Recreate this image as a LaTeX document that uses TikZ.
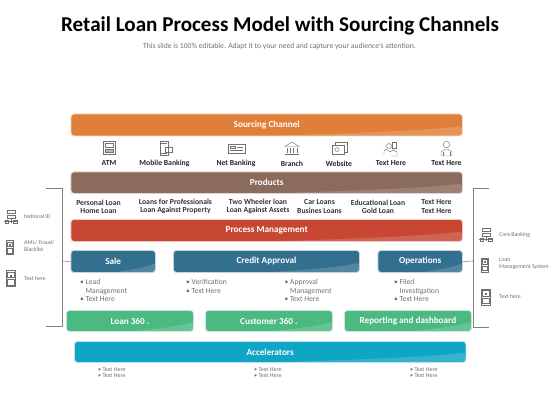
\documentclass[tikz,border=0pt]{standalone}
\usepackage{fontspec}
\setmainfont{Carlito}
\definecolor{orangeb}{HTML}{E07F3A}
\definecolor{brownb}{HTML}{8A6B5C}
\definecolor{redb}{HTML}{C84733}
\definecolor{blueb}{HTML}{33708F}
\definecolor{greenb}{HTML}{4CB981}
\definecolor{cyanb}{HTML}{0FA5C4}
\definecolor{icong}{HTML}{707070}
\definecolor{txtg}{HTML}{707070}
\definecolor{lineg}{HTML}{808080}
\newlength{\bwid}
\tikzset{
 bar/.style={rounded corners=3pt,fill=#1,draw=#1!30!white,line width=0.9pt,text=white,
   font=\bfseries\fontsize{9.2}{10}\selectfont,inner sep=0pt,anchor=north west,align=center,
   path picture={\fill[white,opacity=.16]
     ([xshift=-.5*\bwid]path picture bounding box.south east)
     .. controls ([xshift=-.25*\bwid,yshift=3pt]path picture bounding box.south east) and ([xshift=-.08*\bwid,yshift=6pt]path picture bounding box.south east) ..
     ([yshift=10pt]path picture bounding box.south east)
     -- (path picture bounding box.south east) -- cycle;}},
 lab/.style={font=\bfseries\fontsize{7.7}{8.6}\selectfont,text=black!85,align=center,inner sep=0pt},
 prod/.style={font=\bfseries\fontsize{7.7}{8.2}\selectfont,text=black!80,align=center,inner sep=0pt},
 bul/.style={font=\fontsize{7.6}{8.3}\selectfont,text=txtg,align=left,anchor=north west,inner sep=0pt},
 small/.style={font=\fontsize{6}{6.7}\selectfont,text=txtg,align=left,anchor=north west,inner sep=0pt},
 side/.style={font=\fontsize{5.8}{7}\selectfont,text=txtg,align=left,anchor=west,inner sep=0pt},
 ic/.style={draw=icong,line width=.45pt,fill=none},
 br/.style={draw=lineg,line width=.6pt},
}
\newcommand{\mkbar}[7]{\pgfmathsetlength{\bwid}{#3-#2}\node[bar=#6,minimum width=\bwid,minimum height=#5pt-#4pt] (#1) at (#2,#4) {#7};}
% device icon: centre x,y, half width, half height
\newcommand{\devic}[4]{\draw[ic] (#1-#3,#2-#4) rectangle (#1+#3,#2+#4);
 \draw[ic] (#1-#3+1.2,#2-#4+1.5) rectangle (#1+#3-1.2,#2-1);
 \draw[ic] (#1-#3+1.2,#2+1) rectangle (#1+#3-1.2,#2+#4-1.5);
 \fill[icong] (#1-1,#2-1.8-#4/4) rectangle (#1+1,#2-#4/4+.2);}
\newcommand{\netic}[2]{\draw[ic] (#1-4,#2-7) rectangle (#1+4,#2-3.5);
 \draw[ic] (#1-4,#2-2) rectangle (#1+4,#2+1.5);
 \draw[ic] (#1,#2+1.5) -- (#1,#2+6) (#1-7,#2+4.5) -- (#1+7,#2+4.5);
 \draw[ic] (#1-6,#2+6) rectangle (#1-2.5,#2+3) (#1+2.5,#2+6) rectangle (#1+6,#2+3);}
\begin{document}
\begin{tikzpicture}[x=1pt,y=-1pt]
\useasboundingbox (0,0) rectangle (560,420);
\node[font=\bfseries\fontsize{21.1}{22}\selectfont,text=black,inner sep=0pt] (title) at (280,26) {Retail Loan Process Model with Sourcing Channels};
\node[font=\fontsize{7.65}{8}\selectfont,text=txtg,inner sep=0pt] (sub) at (279.5,46.5) {This slide is 100\% editable. Adapt it to your need and capture your audience's attention.};

% brackets
\coordinate (lt) at (46,188); \coordinate (ltc) at (62,188); \coordinate (lbc) at (62,326); \coordinate (lb) at (46,326);
\coordinate (rt) at (489,188); \coordinate (rtc) at (473,188); \coordinate (rbc) at (473,327); \coordinate (rb) at (489,327);
\coordinate (lm) at (62,261); \coordinate (rm) at (473,261);
\draw[br] (lt) -- (ltc) -- (lbc) -- (lb);
\draw[br] (rt) -- (rtc) -- (rbc) -- (rb);

\mkbar{src}{70.5}{462}{113.5}{135.5}{orangeb}{Sourcing Channel}
\mkbar{prd}{70.5}{462}{171.5}{193}{brownb}{Products}
\mkbar{pm}{70.5}{462}{219}{241}{redb}{Process Management}
\mkbar{sale}{70.5}{155}{250}{272}{blueb}{Sale}
\mkbar{cred}{173}{359}{250}{272}{blueb}{Credit Approval}
\mkbar{oper}{377.5}{462}{250}{272}{blueb}{Operations}
\mkbar{loan}{66}{193}{310}{331}{greenb}{Loan 360 .}
\mkbar{cust}{205}{332}{310}{331}{greenb}{Customer 360 .}
\mkbar{rep}{344}{471}{310}{331}{greenb}{Reporting and dashboard}
\mkbar{acc}{74}{465.5}{341}{362}{cyanb}{Accelerators}
\draw[br] (sale.west) -- (lm);
\draw[br] (oper.east) -- (rm);

% channel labels
\node[lab] (l1) at (109,163.5) {ATM};
\node[lab] (l2) at (164.5,163.5) {Mobile Banking};
\node[lab] (l3) at (236,163.5) {Net Banking};
\node[lab] (l4) at (292,163.5) {Branch};
\node[lab] (l5) at (339,163.5) {Website};
\node[lab] (l6) at (391,163.5) {Text Here};
\node[lab] (l7) at (446.5,163.5) {Text Here};

% channel icons
\draw[ic] (103,141) rectangle (115,154); \draw[ic] (105,143) rectangle (113,147); \draw[ic,fill=icong!50] (105,149) rectangle (113,152);
\draw[ic] (160,141) rectangle (168,155); \draw[ic] (165,147) rectangle (172,152); \draw[ic] (161,153.5) -- (167,153.5) (161,143) -- (167,143);
\draw[ic] (228,144) rectangle (245,153); \draw[ic] (230,146) rectangle (235,148); \draw[ic] (230,150.5) -- (243,150.5) (237,147) -- (243,147);
\draw[ic] (285,146.5) -- (292,142) -- (299,146.5) -- cycle; \draw[ic] (287,148) -- (287,153) (290.5,148) -- (290.5,153) (293.5,148) -- (293.5,153) (297,148) -- (297,153) (285,154.5) -- (299,154.5);
\draw[ic] (335,145) -- (335,142) -- (347,142) -- (347,152) -- (344,152); \draw[ic] (332,145) rectangle (344,154); \draw[ic] (337,149.5) circle (2);
\draw[ic] (389,146) circle (2.5); \draw[ic] (392,142) rectangle (396,148); \draw[ic] (384,155) -- (384,151) .. controls (386,148) and (388,150) .. (390,152) -- (393,150) -- (397,152) -- (397,156) -- (391,156);
\draw[ic] (446.5,144.5) circle (3.2); \draw[ic] (441,156) -- (441,152) -- (445,149.5) -- (448,149.5) -- (452,152) -- (452,156) -- cycle; \draw[ic] (443,156) -- (443,152) (450,156) -- (450,152);

% products
\node[prod] (p1) at (98.5,206.5) {Personal Loan\\Home Loan};
\node[prod] (p2) at (175.5,206.5) {Loans for Professionals\\Loan Against Property};
\node[prod] (p3) at (258,206.5) {Two Wheeler loan\\Loan Against Assets};
\node[prod] (p4) at (319.5,206.5) {Car Loans\\Busines Loans};
\node[prod] (p5) at (378,206.5) {Educational Loan\\Gold Loan};
\node[prod] (p6) at (436.5,206.5) {Text Here\\Text Here};

% bullets
\node[bul] (b1) at (80,279.5) {• Lead\\\phantom{• }Management\\• Text Here};
\node[bul] (b2) at (186,279.5) {• Verification\\• Text Here};
\node[bul] (b3) at (284.5,279.5) {• Approval\\\phantom{• }Management\\• Text Here};
\node[bul] (b4) at (394,279.5) {• Filed\\\phantom{• }Investigation\\• Text Here};
\node[small] (a1) at (98,367) {• Text Here\\• Text Here};
\node[small] (a2) at (254,367) {• Text Here\\• Text Here};
\node[small] (a3) at (410,367) {• Text Here\\• Text Here};

% side items
\netic{11}{217}
\devic{10}{247.5}{3.5}{7}
\devic{10.5}{278.5}{4.5}{8}
\node[side] (s1) at (24,217) {National ID};
\node[side] (s2) at (24,246.5) {AML/ Fraud/\\Blacklist};
\node[side] (s3) at (24,278.5) {Text here};
\netic{486}{235}
\devic{485}{265}{3.5}{7}
\devic{486}{297}{4.5}{8}
\node[side] (r1) at (499,235) {Core Banking};
\node[side] (r2) at (499,264) {Loan\\Management System};
\node[side] (r3) at (499,297) {Text here};
\end{tikzpicture}
\end{document}
